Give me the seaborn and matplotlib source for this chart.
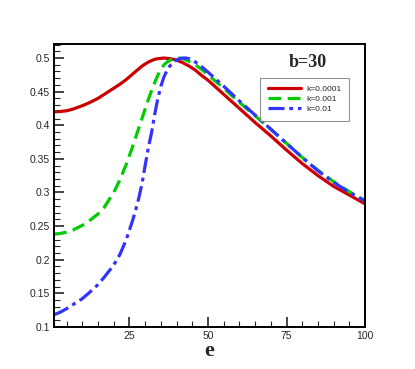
import numpy as np
import matplotlib.pyplot as plt
import seaborn as sns
import pandas as pd
from matplotlib.ticker import MultipleLocator

# Values
e = [1, 3, 5, 7, 10, 12, 15, 17, 20, 22, 24, 26,
     27, 28, 29, 30, 31, 32, 33, 34, 35, 36, 37, 38, 39, 40, 41, 42, 43, 44,
     46, 48, 50, 55, 60, 65, 70, 75, 80, 85, 90, 95, 100]
k_0001 = [0.420, 0.4205, 0.4215, 0.424, 0.429, 0.433, 0.440, 0.446, 0.455, 0.461, 0.468, 0.476,
          0.480, 0.484, 0.488, 0.491, 0.494, 0.496, 0.498, 0.499, 0.4995, 0.500, 0.4995, 0.499,
          0.498, 0.497, 0.495, 0.493, 0.4905, 0.488,
          0.482, 0.474, 0.467, 0.446, 0.425, 0.404, 0.384, 0.363, 0.343, 0.325, 0.309, 0.296, 0.283]
k_001 = [0.238, 0.239, 0.241, 0.244, 0.251, 0.257, 0.268, 0.278, 0.300, 0.319, 0.342, 0.368,
         0.382, 0.396, 0.410, 0.424, 0.438, 0.451, 0.463, 0.474, 0.483, 0.490, 0.494, 0.497,
         0.499, 0.500, 0.500, 0.499, 0.497, 0.495,
         0.490, 0.483, 0.475, 0.455, 0.434, 0.414, 0.394, 0.373, 0.352, 0.333, 0.316, 0.301, 0.288]
k_01 = [0.118, 0.122, 0.127, 0.133, 0.142, 0.150, 0.163, 0.174, 0.192, 0.208, 0.230, 0.258,
        0.274, 0.292, 0.313, 0.340, 0.366, 0.388, 0.415, 0.439, 0.458, 0.472, 0.482, 0.489,
        0.494, 0.497, 0.499, 0.500, 0.500, 0.499,
        0.494, 0.487, 0.479, 0.458, 0.436, 0.415, 0.394, 0.373, 0.352, 0.332, 0.315, 0.300, 0.287]
labels = ['k=0.0001', 'k=0.001', 'k=0.01']
colors = ['#cc0000', '#00cc00', '#3333ff']

sns.set_style('white')
plt.rcParams['font.family'] = ['Liberation Sans', 'DejaVu Sans']

fig = plt.figure(figsize=(4.15, 3.69), dpi=100)
ax = fig.add_axes([0.130, 0.114, 0.750, 0.767])

df = pd.DataFrame({'e': e * 3,
                   'v': k_0001 + k_001 + k_01,
                   'k': [labels[0]] * len(e) + [labels[1]] * len(e) + [labels[2]] * len(e)})

sns.lineplot(data=df, x='e', y='v', hue='k', style='k', palette=colors,
             dashes=['', (4, 2), (5, 1.5, 1.2, 1.5)], linewidth=2.3, ax=ax)

ax.set_xlim(1, 100)
ax.set_ylim(0.1, 0.521)
ax.set_xticks([25, 50, 75, 100])
ax.xaxis.set_minor_locator(MultipleLocator(5))
ax.set_yticks([0.1, 0.15, 0.2, 0.25, 0.3, 0.35, 0.4, 0.45, 0.5])
ax.set_yticklabels(['0.1', '0.15', '0.2', '0.25', '0.3', '0.35', '0.4', '0.45', '0.5'])
ax.yaxis.set_minor_locator(MultipleLocator(0.01))
ax.tick_params(which='major', direction='in', length=7, width=1.2, labelsize=7.5,
               left=True, bottom=True, top=False, right=False, pad=3)
ax.tick_params(which='minor', direction='in', length=4, width=0.8,
               left=True, bottom=True, top=False, right=False)
for s in ax.spines.values():
    s.set_linewidth(1.4)
    s.set_color('black')

ax.set_xlabel('e', fontsize=16, fontweight='bold', family='Liberation Serif', labelpad=0)
ax.set_ylabel('')
ax.text(0.814, 0.936, 'b=30', transform=ax.transAxes, ha='center', va='center',
        fontsize=13, fontweight='bold', family='Liberation Serif')

leg = ax.legend(loc='upper right', bbox_to_anchor=(0.961, 0.894), fontsize=6,
                frameon=True, fancybox=False, handlelength=4.0, borderpad=0.9,
                labelspacing=0.25, handletextpad=0.6)
leg.get_frame().set_edgecolor('#777777')
leg.get_frame().set_linewidth(0.8)

fig.savefig('out.png', dpi=100)
